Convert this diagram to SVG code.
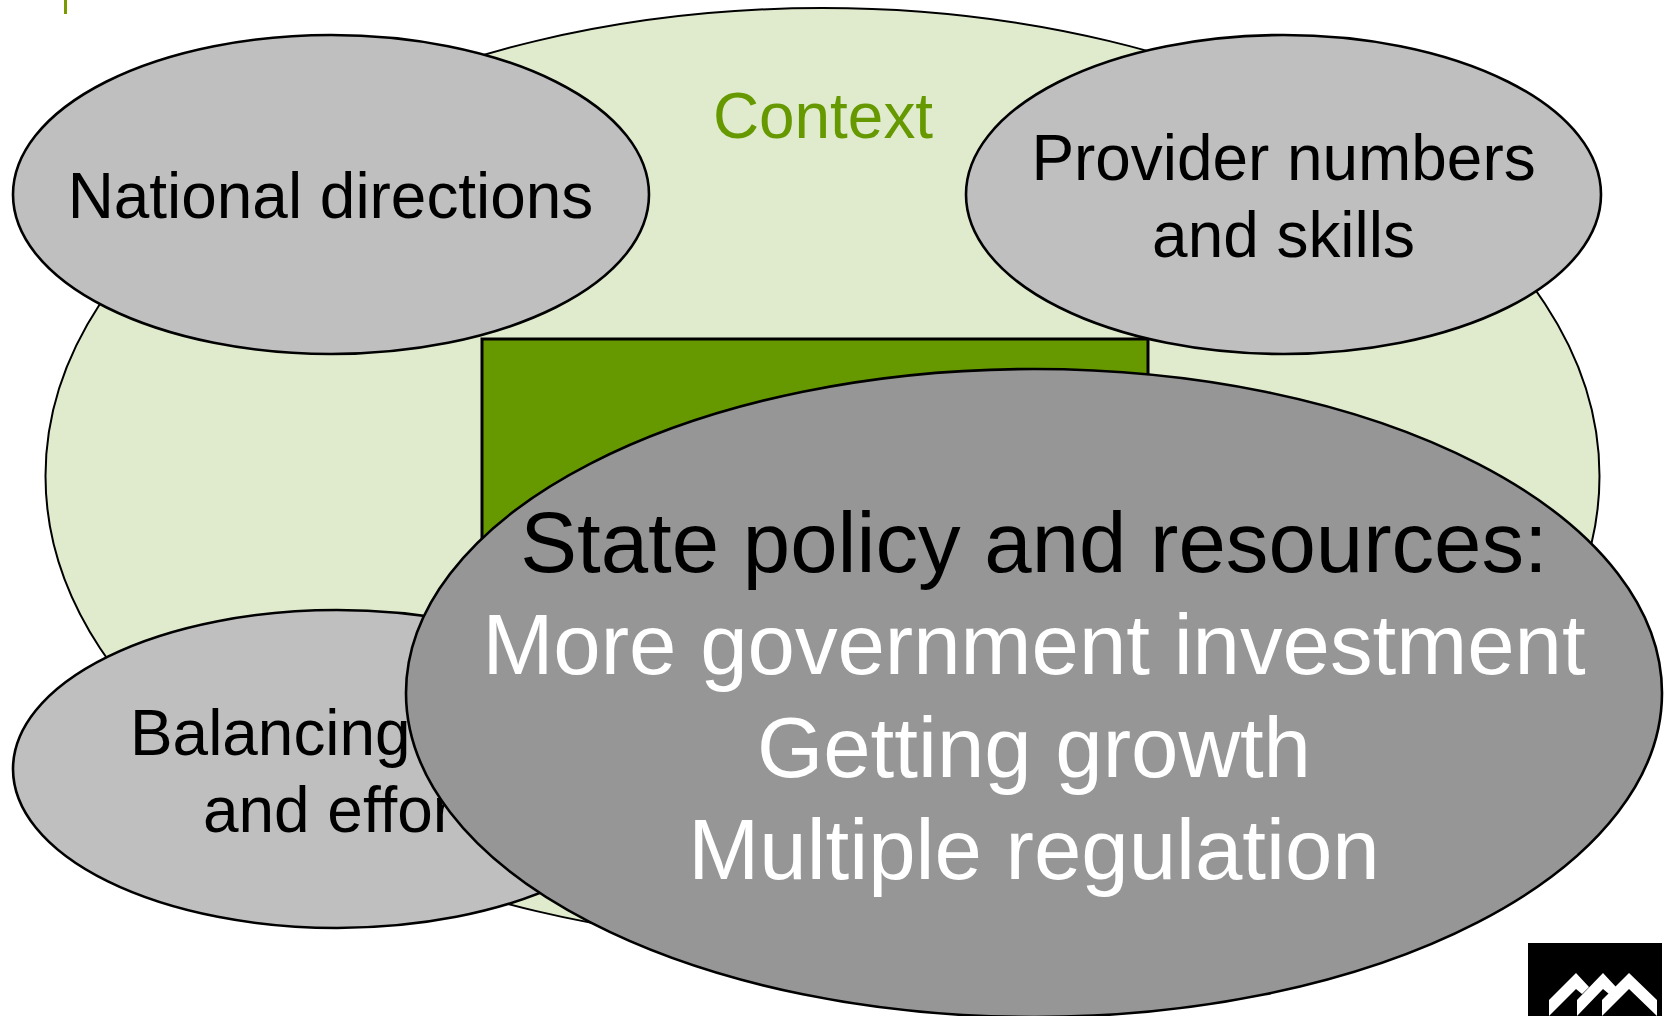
<svg xmlns="http://www.w3.org/2000/svg" width="1670" height="1016" viewBox="0 0 1670 1016">
<style>
text{font-family:"Liberation Sans",Arial,sans-serif;fill:#000}
.l{font-size:63.9px;text-anchor:middle}
.s{font-size:63.9px}
.b{font-size:85.2px;text-anchor:middle}
.e{stroke:#000;stroke-width:2.6}
.g{fill:#bfbfbf}
</style>
<rect width="1670" height="1016" fill="#fff"/>
<rect id="tick" x="64" y="0" width="3" height="14" fill="#7a9a01"/>
<g id="context">
<ellipse cx="822.500" cy="476" rx="777" ry="468" fill="#e0ebcd" stroke="#000" stroke-width="2"/>
<text class="l" x="823" y="138" style="fill:#669900">Context</text>
</g>
<rect id="core" x="482" y="339" width="666" height="360" fill="#669900" stroke="#000" stroke-width="3"/>
<g id="national">
<ellipse class="e g" cx="331" cy="194.500" rx="318" ry="159.500"/>
<text class="l" x="330.500" y="218">National directions</text>
</g>
<g id="provider">
<ellipse class="e g" cx="1283.500" cy="194.500" rx="317.500" ry="159.500"/>
<text class="l" x="1283.500" y="180">Provider numbers</text>
<text class="l" x="1283.500" y="257">and skills</text>
</g>
<g id="balancing">
<ellipse class="e g" cx="337" cy="769" rx="324" ry="159"/>
<text class="s" x="130" y="755">Balancing</text>
<text class="s" x="203" y="832">and effor</text>
</g>
<g id="state">
<ellipse class="e" cx="1034" cy="693" rx="628" ry="324" fill="#969696"/>
<text class="b" x="1034" y="571.500">State policy and resources:</text>
<text class="b" x="1034" y="674" style="fill:#fff">More government investment</text>
<text class="b" x="1034" y="777" style="fill:#fff">Getting growth</text>
<text class="b" x="1034" y="879" style="fill:#fff">Multiple regulation</text>
</g>
<g id="logo">
<rect x="1528" y="943" width="134" height="73" fill="#000"/>
<path d="M1549 1000L1576 973L1589 987L1582 994L1576 989L1549 1016Z M1577 1000L1603 973L1616 987L1609 994L1603 989L1577 1016Z M1602 1000L1629 973L1657 1000V1016L1629 989L1602 1016Z" fill="#fff"/>
</g>
<g id="connectors"/>
</svg>
